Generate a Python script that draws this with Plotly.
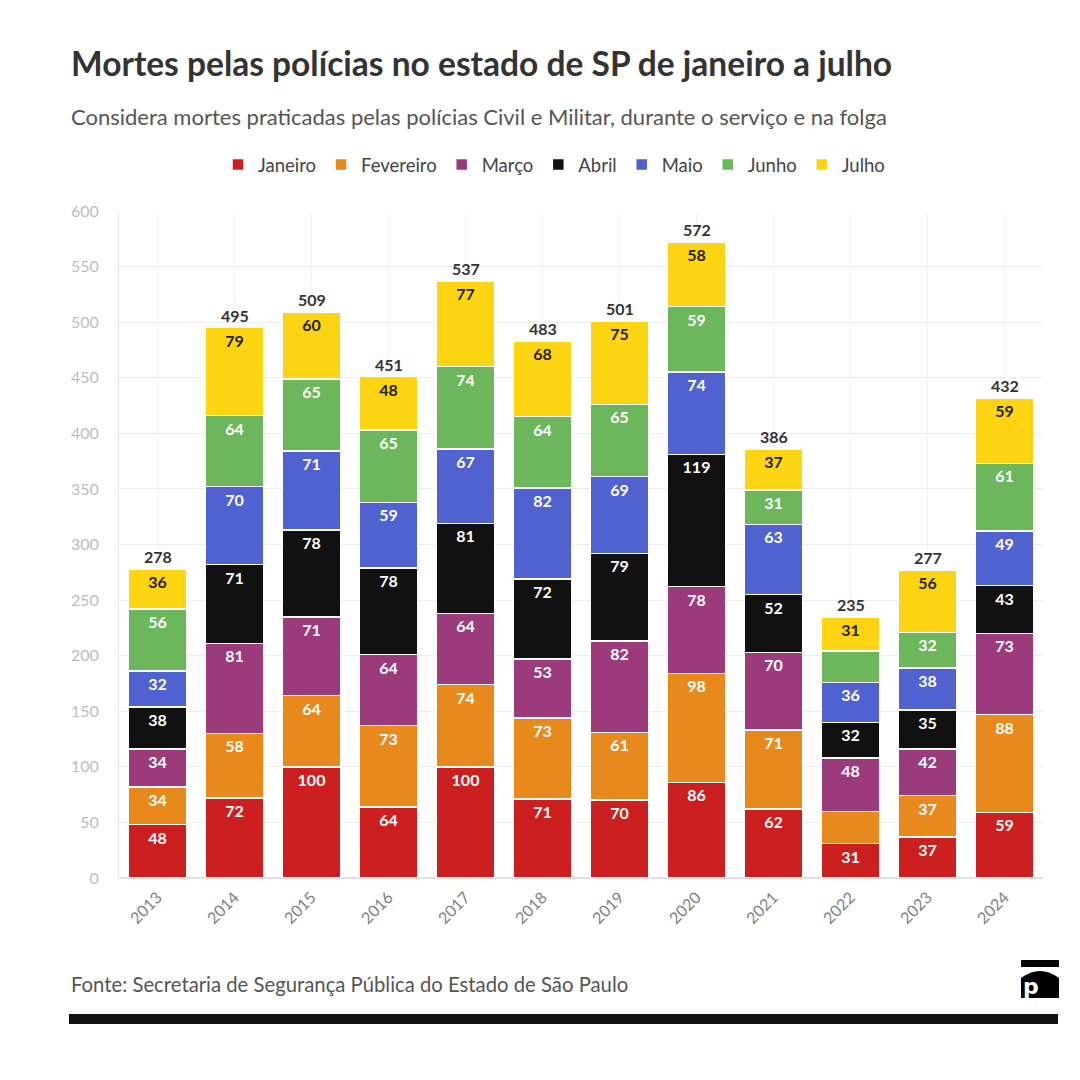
import plotly.graph_objects as go

anos = ["2013", "2014", "2015", "2016", "2017", "2018", "2019", "2020", "2021", "2022", "2023", "2024"]
janeiro = [48, 72, 100, 64, 100, 71, 70, 86, 62, 31, 37, 59]
fevereiro = [34, 58, 64, 73, 74, 73, 61, 98, 71, 29, 37, 88]
marco = [34, 81, 71, 64, 64, 53, 82, 78, 70, 48, 42, 73]
abril = [38, 71, 78, 78, 81, 72, 79, 119, 52, 32, 35, 43]
maio = [32, 70, 71, 59, 67, 82, 69, 74, 63, 36, 38, 49]
junho = [56, 64, 65, 65, 74, 64, 65, 59, 31, 28, 32, 61]
julho = [36, 79, 60, 48, 77, 68, 75, 58, 37, 31, 56, 59]

meses = ["Janeiro", "Fevereiro", "Março", "Abril", "Maio", "Junho", "Julho"]
series = [janeiro, fevereiro, marco, abril, maio, junho, julho]
cores = ["#cc1f1f", "#e8891c", "#9b3b7b", "#111111", "#5061d0", "#6cb65c", "#fcd412"]
# segmentos pequenos sem rotulo no original (2022 fev/jun)
sem_rotulo = {("Fevereiro", "2022"), ("Junho", "2022")}

W, H = 1080, 1080
OFF = 7  # deslocamento da pagina
L, R, T, B = 118 - OFF, 38 + OFF, 210 - OFF, 203 + OFF


def px(x):
    return (x - OFF - L) / (W - L - R)


def py(y):
    return (H - B - (y - OFF)) / (H - T - B)


FONT = "Source Sans Pro, Lato, sans-serif"

fig = go.Figure()
for mes, vals, cor in zip(meses, series, cores):
    txt = ["" if (mes, a) in sem_rotulo else str(v) for a, v in zip(anos, vals)]
    fig.add_trace(go.Bar(
        x=anos, y=vals, name=mes,
        marker=dict(color=cor, line=dict(color="white", width=1.5)),
        text=txt, textposition="inside", insidetextanchor="end",
        textangle=0, constraintext="none",
        textfont=dict(family=FONT, size=16,
                      color="#222222" if mes == "Julho" else "white",
                      weight="bold"),
        hoverinfo="x+y+name",
    ))

totais = [sum(v) for v in zip(*series)]
for i, t in enumerate(totais):
    # indice da categoria (string "2013" seria lida como numero)
    fig.add_annotation(x=i, y=t, text=str(t), showarrow=False, yanchor="bottom",
                       yshift=1, font=dict(family=FONT, size=16, color="#333333", weight="bold"))

# titulo, subtitulo, fonte
fig.add_annotation(x=px(68), y=py(62), xref="paper", yref="paper", xanchor="left", yanchor="middle",
                   text="<b>Mortes pelas polícias no estado de SP de janeiro a julho</b>",
                   showarrow=False, font=dict(family=FONT, size=33.5, color="#333333"))
fig.add_annotation(x=px(68), y=py(116), xref="paper", yref="paper", xanchor="left", yanchor="middle",
                   text="Considera mortes praticadas pelas polícias Civil e Militar, durante o serviço e na folga",
                   showarrow=False, font=dict(family=FONT, size=22, color="#555555"))
fig.add_annotation(x=px(68), y=py(983), xref="paper", yref="paper", xanchor="left", yanchor="middle",
                   text="Fonte: Secretaria de Segurança Pública do Estado de São Paulo",
                   showarrow=False, font=dict(family=FONT, size=20.3, color="#555555"))

# barra preta e logo
fig.add_shape(type="rect", xref="paper", yref="paper", x0=px(68), x1=px(1057), y0=py(1013), y1=py(1023),
              fillcolor="#111111", line_width=0)
fig.add_shape(type="rect", xref="paper", yref="paper", x0=px(1020), x1=px(1058), y0=py(959), y1=py(966),
              fillcolor="#000000", line_width=0)
arco = "M {},{} Q {},{} {},{} L {},{} L {},{} Z".format(
    px(1020), py(977), px(1039), py(963), px(1058), py(977),
    px(1058), py(997), px(1020), py(997))
fig.add_shape(type="path", xref="paper", yref="paper", path=arco, fillcolor="#000000", line_width=0)
fig.add_annotation(x=px(1040), y=py(1000), xref="paper", yref="paper", yanchor="bottom",
                   text="<b>p</b>", showarrow=False,
                   font=dict(family="DejaVu Sans", size=22, color="white"))

fig.update_layout(
    width=W, height=H,
    barmode="stack", bargap=0.25,
    margin=dict(l=L, r=R, t=T, b=B),
    paper_bgcolor="white", plot_bgcolor="white",
    font=dict(family=FONT),
    showlegend=True,
    legend=dict(orientation="h", x=px(553), y=py(164), xanchor="center", yanchor="middle",
                traceorder="normal", font=dict(family=FONT, size=18.5, color="#444444"),
                itemwidth=30, itemclick=False),
    uniformtext=dict(minsize=16, mode="show"),
)
fig.update_yaxes(range=[0, 600], dtick=50, showgrid=True, gridcolor="#ececec", gridwidth=1,
                 zeroline=True, zerolinecolor="#e0e0e0", showline=True, linecolor="#e6e6e6",
                 ticklabelstandoff=16,
                 tickfont=dict(family=FONT, size=16, color="#bdbdbd"), ticks="", fixedrange=True)
fig.update_xaxes(type="category", range=[-0.5, len(anos) - 0.5], tickangle=-45,
                 ticklabelstandoff=6,
                 tickfont=dict(family=FONT, size=16, color="#808080"),
                 showgrid=True, gridcolor="#f3f3f3", ticks="", fixedrange=True)

fig.write_html("out.html")
